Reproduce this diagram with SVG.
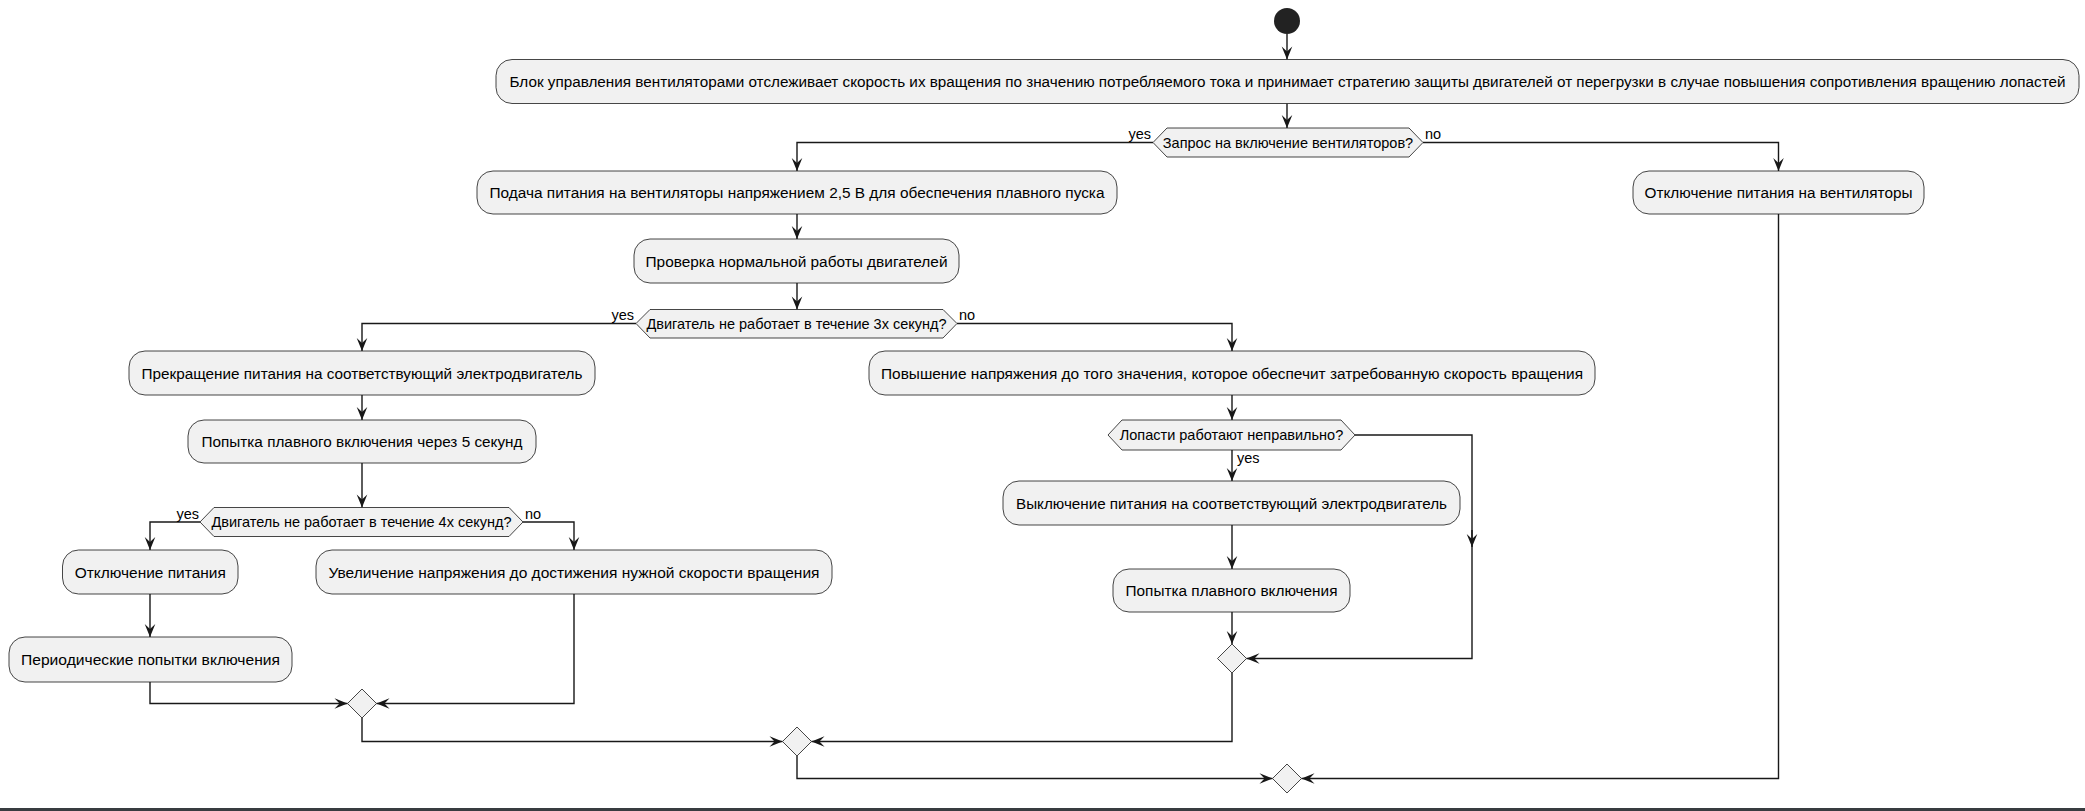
<svg xmlns="http://www.w3.org/2000/svg" width="2085" height="811" viewBox="0 0 2085 811">
<defs>
<marker id="arr" viewBox="-14 -6 15 12" refX="0" refY="0" markerWidth="15" markerHeight="12" markerUnits="userSpaceOnUse" orient="auto">
<path d="M0,0 L-13,-5.3 L-8,0 L-13,5.3 Z" fill="#181818"/>
</marker>
<style>
.box{fill:#F1F1F1;stroke:#181818;stroke-width:0.8}
.dec{fill:#F1F1F1;stroke:#181818;stroke-width:0.8}
.t{font-family:"Liberation Sans",Arial,sans-serif;font-size:15.2px;fill:#000;text-anchor:middle}
.td{font-family:"Liberation Sans",Arial,sans-serif;font-size:14.5px;fill:#000;text-anchor:middle}
.lbl{font-family:"Liberation Sans",Arial,sans-serif;font-size:14.5px;fill:#000}
.c{fill:none;stroke:#181818;stroke-width:1.4}
.ca{fill:none;stroke:#181818;stroke-width:1.4;marker-end:url(#arr)}
</style>
</defs>
<rect width="2085" height="811" fill="#FFFFFF"/>
<rect x="0" y="808" width="2085" height="3" fill="#383c40"/>

<g id="connectors">
<path class="ca" d="M1287,34 L1287,59.5"/>
<path class="ca" d="M1287,103.5 L1287,128"/>
<path class="ca" d="M1153,142.5 L797,142.5 L797,171"/>
<path class="ca" d="M1423,142.5 L1778.5,142.5 L1778.5,171"/>
<path class="ca" d="M797,214 L797,239"/>
<path class="ca" d="M797,283 L797,309.5"/>
<path class="ca" d="M636,323.5 L362,323.5 L362,351"/>
<path class="ca" d="M957,323.5 L1232,323.5 L1232,351"/>
<path class="ca" d="M362,395 L362,420"/>
<path class="ca" d="M362,463 L362,507.5"/>
<path class="ca" d="M200,522 L150,522 L150,550"/>
<path class="ca" d="M523,522 L574,522 L574,550"/>
<path class="ca" d="M150,594 L150,637"/>
<path class="ca" d="M150,682 L150,703.5 L347.5,703.5"/>
<path class="ca" d="M574,594 L574,703.5 L376.5,703.5"/>
<path class="ca" d="M362,718 L362,741.5 L782.5,741.5"/>
<path class="ca" d="M1232,395 L1232,420"/>
<path class="ca" d="M1232,450 L1232,481"/>
<path class="ca" d="M1355,435 L1472,435 L1472,658.5 L1246.5,658.5"/>
<path class="ca" d="M1472,530 L1472,547"/>
<path class="ca" d="M1232,525 L1232,569"/>
<path class="ca" d="M1232,612 L1232,644"/>
<path class="ca" d="M1232,673 L1232,741.5 L811.5,741.5"/>
<path class="ca" d="M797,756 L797,778.5 L1272.5,778.5"/>
<path class="ca" d="M1778.5,214 L1778.5,778.5 L1301.5,778.5"/>
</g>

<g id="start"><circle cx="1287" cy="21" r="13" fill="#222222"/></g>

<g id="n1"><rect class="box" x="496" y="59.5" width="1583" height="44" rx="16"/>
<text class="t" x="1287.5" y="87" textLength="1556" lengthAdjust="spacingAndGlyphs">Блок управления вентиляторами отслеживает скорость их вращения по значению потребляемого тока и принимает стратегию защиты двигателей от перегрузки в случае повышения сопротивления вращению лопастей</text></g>

<g id="d1"><polygon class="dec" points="1153,142.5 1167,128 1409,128 1423,142.5 1409,157 1167,157"/>
<text class="td" x="1288" y="147.5">Запрос на включение вентиляторов?</text>
<text class="lbl" x="1151" y="139" text-anchor="end">yes</text>
<text class="lbl" x="1425" y="139">no</text></g>

<g id="n2"><rect class="box" x="477" y="171" width="640" height="43" rx="16"/>
<text class="t" x="797" y="198" textLength="615" lengthAdjust="spacingAndGlyphs">Подача питания на вентиляторы напряжением 2,5 В для обеспечения плавного пуска</text></g>

<g id="n3"><rect class="box" x="1633" y="171" width="291" height="43" rx="16"/>
<text class="t" x="1778.5" y="198" textLength="268" lengthAdjust="spacingAndGlyphs">Отключение питания на вентиляторы</text></g>

<g id="n4"><rect class="box" x="634" y="239" width="325" height="44" rx="16"/>
<text class="t" x="796.5" y="266.5" textLength="302" lengthAdjust="spacingAndGlyphs">Проверка нормальной работы двигателей</text></g>

<g id="d2"><polygon class="dec" points="636,323.5 650,309.5 943,309.5 957,323.5 943,338 650,338"/>
<text class="td" x="796.5" y="328.5">Двигатель не работает в течение 3х секунд?</text>
<text class="lbl" x="634" y="320" text-anchor="end">yes</text>
<text class="lbl" x="959" y="320">no</text></g>

<g id="n5"><rect class="box" x="129" y="351" width="466" height="44" rx="16"/>
<text class="t" x="362" y="378.5" textLength="441" lengthAdjust="spacingAndGlyphs">Прекращение питания на соответствующий электродвигатель</text></g>

<g id="n6"><rect class="box" x="869" y="351" width="726" height="44" rx="16"/>
<text class="t" x="1232" y="378.5" textLength="702" lengthAdjust="spacingAndGlyphs">Повышение напряжения до того значения, которое обеспечит затребованную скорость вращения</text></g>

<g id="n7"><rect class="box" x="188" y="420" width="348" height="43" rx="16"/>
<text class="t" x="362" y="447" textLength="321" lengthAdjust="spacingAndGlyphs">Попытка плавного включения через 5 секунд</text></g>

<g id="d3"><polygon class="dec" points="200,522 214,507.5 509,507.5 523,522 509,536.5 214,536.5"/>
<text class="td" x="361.5" y="527">Двигатель не работает в течение 4х секунд?</text>
<text class="lbl" x="199" y="519" text-anchor="end">yes</text>
<text class="lbl" x="525" y="519">no</text></g>

<g id="d4"><polygon class="dec" points="1108,435 1122,420 1341,420 1355,435 1341,450 1122,450"/>
<text class="td" x="1231.5" y="440">Лопасти работают неправильно?</text>
<text class="lbl" x="1237" y="463">yes</text></g>

<g id="n8"><rect class="box" x="62.5" y="550" width="175.5" height="44" rx="16"/>
<text class="t" x="150.25" y="577.5" textLength="151" lengthAdjust="spacingAndGlyphs">Отключение питания</text></g>

<g id="n9"><rect class="box" x="316" y="550" width="516" height="44" rx="16"/>
<text class="t" x="574" y="577.5" textLength="491" lengthAdjust="spacingAndGlyphs">Увеличение напряжения до достижения нужной скорости вращения</text></g>

<g id="n10"><rect class="box" x="9" y="637" width="283" height="45" rx="16"/>
<text class="t" x="150.5" y="665" textLength="259" lengthAdjust="spacingAndGlyphs">Периодические попытки включения</text></g>

<g id="n11"><rect class="box" x="1003" y="481" width="457" height="44" rx="16"/>
<text class="t" x="1231.5" y="508.5" textLength="431" lengthAdjust="spacingAndGlyphs">Выключение питания на соответствующий электродвигатель</text></g>

<g id="n12"><rect class="box" x="1113" y="569" width="237" height="43" rx="16"/>
<text class="t" x="1231.5" y="596" textLength="212" lengthAdjust="spacingAndGlyphs">Попытка плавного включения</text></g>

<g id="mA"><polygon class="dec" points="362,689 376.5,703.5 362,718 347.5,703.5"/></g>
<g id="mB"><polygon class="dec" points="797,727 811.5,741.5 797,756 782.5,741.5"/></g>
<g id="mC"><polygon class="dec" points="1232,644 1246.5,658.5 1232,673 1217.5,658.5"/></g>
<g id="mD"><polygon class="dec" points="1287,764 1301.5,778.5 1287,793 1272.5,778.5"/></g>
</svg>
